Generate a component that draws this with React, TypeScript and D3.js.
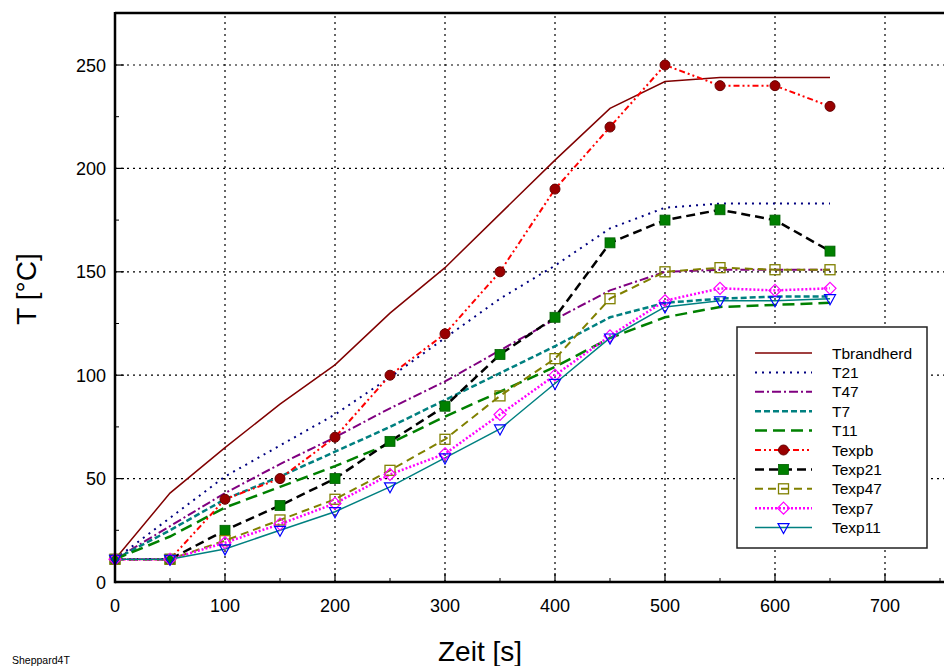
import React from "react";
import * as d3 from "d3";

const times = [0, 50, 100, 150, 200, 250, 300, 350, 400, 450, 500, 550, 600, 650];

const tBrandherd = [11, 43, 65, 86, 105, 130, 152, 178, 204, 229, 242, 244, 244, 244];
const t21 = [11, 31, 51, 66, 81, 99, 118, 137, 153, 171, 181, 183, 183, 183];
const t47 = [11, 27, 43, 57, 70, 84, 97, 112, 127, 141, 150, 151, 151, 151];
const t7 = [11, 25, 40, 51, 63, 75, 88, 101, 114, 128, 135, 137, 138, 138];
const t11 = [11, 22, 36, 46, 56, 67, 80, 92, 104, 118, 128, 133, 134, 135];

const texpb = [11, 11, 40, 50, 70, 100, 120, 150, 190, 220, 250, 240, 240, 230];
const texp21 = [11, 11, 25, 37, 50, 68, 85, 110, 128, 164, 175, 180, 175, 160];
const texp47 = [11, 11, 20, 30, 40, 54, 69, 90, 108, 137, 150, 152, 151, 151];
const texp7 = [11, 11, 19, 28, 38, 52, 62, 81, 100, 119, 136, 142, 141, 142];
const texp11 = [11, 11, 16, 25, 34, 46, 60, 74, 96, 118, 133, 136, 136, 137];

const xTicks = [0, 100, 200, 300, 400, 500, 600, 700];
const yTicks = [0, 50, 100, 150, 200, 250];

type Marker = "none" | "circle" | "squareFilled" | "square" | "diamond" | "triangleDown";

interface Series {
  name: string;
  values: number[];
  color: string;
  width: number;
  dash: string;
  marker: Marker;
}

const series: Series[] = [
  { name: "Tbrandherd", values: tBrandherd, color: "#800000", width: 1.5, dash: "", marker: "none" },
  { name: "T21", values: t21, color: "#000080", width: 2, dash: "2,5", marker: "none" },
  { name: "T47", values: t47, color: "#800080", width: 2, dash: "9,3,2,3", marker: "none" },
  { name: "T7", values: t7, color: "#008080", width: 2.5, dash: "6,3", marker: "none" },
  { name: "T11", values: t11, color: "#008000", width: 2.5, dash: "12,6", marker: "none" },
  { name: "Texpb", values: texpb, color: "#FF0000", width: 2, dash: "6,3,2,3,2,3", marker: "circle" },
  { name: "Texp21", values: texp21, color: "#000000", width: 2.5, dash: "9,5", marker: "squareFilled" },
  { name: "Texp47", values: texp47, color: "#808000", width: 2, dash: "8,5", marker: "square" },
  { name: "Texp7", values: texp7, color: "#FF00FF", width: 2.5, dash: "2,2", marker: "diamond" },
  { name: "Texp11", values: texp11, color: "#008080", width: 1.5, dash: "", marker: "triangleDown" },
];

const W = 944;
const H = 666;
const left = 115;
const xScale = d3.scaleLinear().domain([0, 750]).range([left, 940]);
const yScale = d3.scaleLinear().domain([0, 275]).range([582, 13.3]);

function MarkerShape({ m, x, y }: { m: Marker; x: number; y: number }) {
  switch (m) {
    case "circle":
      return <circle cx={x} cy={y} r={5} fill="#990000" stroke="#660000" strokeWidth={1} />;
    case "squareFilled":
      return <rect x={x - 5} y={y - 5} width={10} height={10} fill="#008000" stroke="#006000" strokeWidth={0.8} />;
    case "square":
      return <rect x={x - 5} y={y - 5} width={10} height={10} fill="none" stroke="#808000" strokeWidth={1.3} />;
    case "diamond":
      return (
        <path
          d={`M${x},${y - 6}L${x + 6},${y}L${x},${y + 6}L${x - 6},${y}Z`}
          fill="none"
          stroke="#FF00FF"
          strokeWidth={1.2}
        />
      );
    case "triangleDown":
      return (
        <path
          d={`M${x - 5.5},${y - 4}L${x + 5.5},${y - 4}L${x},${y + 6}Z`}
          fill="none"
          stroke="#0000FF"
          strokeWidth={1.2}
        />
      );
    default:
      return null;
  }
}

export default function App() {
  const line = d3
    .line<number>()
    .x((_, i) => xScale(times[i]))
    .y((v) => yScale(v));

  const minorX = d3.range(50, 751, 100);
  const minorY = d3.range(25, 276, 50);
  const font = "Arial, 'Liberation Sans', sans-serif";

  const legX = 737;
  const legY = 327;
  const legW = 190;
  const legH = 221;
  const rowY0 = 353;
  const rowStep = 19.4;

  return (
    <svg
      width={W}
      height={H}
      style={{ position: "fixed", left: 0, top: 0, background: "#fff", display: "block" }}
      fontFamily={font}
    >
      <rect x={0} y={0} width={W} height={H} fill="#fff" />
      {/* grid */}
      {xTicks.slice(1).map((t) => (
        <line
          key={"gx" + t}
          x1={xScale(t)}
          x2={xScale(t)}
          y1={yScale(0)}
          y2={yScale(275)}
          stroke="#000"
          strokeWidth={1.2}
          strokeDasharray="2,4"
        />
      ))}
      {yTicks.slice(1).map((t) => (
        <line
          key={"gy" + t}
          x1={left}
          x2={W}
          y1={yScale(t)}
          y2={yScale(t)}
          stroke="#000"
          strokeWidth={1.2}
          strokeDasharray="2,4"
        />
      ))}
      {/* minor & major ticks */}
      {minorX.map((t) => (
        <line key={"mx" + t} x1={xScale(t)} x2={xScale(t)} y1={yScale(0)} y2={yScale(0) - 4} stroke="#000" />
      ))}
      {xTicks.map((t) => (
        <line key={"Mx" + t} x1={xScale(t)} x2={xScale(t)} y1={yScale(0)} y2={yScale(0) - 9} stroke="#000" strokeWidth={1.2} />
      ))}
      {minorY.map((t) => (
        <line key={"my" + t} x1={left} x2={left + 4} y1={yScale(t)} y2={yScale(t)} stroke="#000" />
      ))}
      {yTicks.map((t) => (
        <line key={"My" + t} x1={left} x2={left + 9} y1={yScale(t)} y2={yScale(t)} stroke="#000" strokeWidth={1.2} />
      ))}
      {/* series lines */}
      {series.map((s) => (
        <path
          key={"l" + s.name}
          d={line(s.values) || ""}
          fill="none"
          stroke={s.color}
          strokeWidth={s.width}
          strokeDasharray={s.dash || undefined}
        />
      ))}
      {series.map((s) =>
        s.marker === "none"
          ? null
          : s.values.map((v, i) => (
              <MarkerShape key={s.name + "m" + i} m={s.marker} x={xScale(times[i])} y={yScale(v)} />
            ))
      )}
      {/* axes frame */}
      <line x1={left} x2={W} y1={yScale(0)} y2={yScale(0)} stroke="#000" strokeWidth={2.5} />
      <line x1={left} x2={left} y1={yScale(0) + 1.2} y2={12} stroke="#000" strokeWidth={2.5} />
      <line x1={left} x2={W} y1={13} y2={13} stroke="#000" strokeWidth={2.5} />
      {/* tick labels */}
      {xTicks.map((t) => (
        <text key={"tx" + t} x={xScale(t)} y={612} fontSize={18} textAnchor="middle" fill="#000">
          {t}
        </text>
      ))}
      {yTicks.map((t) => (
        <text key={"ty" + t} x={106} y={yScale(t) + 6.5} fontSize={18} textAnchor="end" fill="#000">
          {t}
        </text>
      ))}
      {/* axis titles */}
      <text x={480} y={661} fontSize={28} textAnchor="middle" fill="#000">
        Zeit [s]
      </text>
      <text
        transform={`translate(36,289) rotate(-90)`}
        fontSize={28}
        textAnchor="middle"
        fill="#000"
      >
        T [°C]
      </text>
      <text x={12} y={664} fontSize={10.5} fill="#000">
        Sheppard4T
      </text>
      {/* legend */}
      <rect x={legX} y={legY} width={legW} height={legH} fill="#fff" stroke="#222" strokeWidth={1.5} />
      {series.map((s, i) => {
        const y = rowY0 + i * rowStep;
        return (
          <g key={"lg" + s.name}>
            <line
              x1={755}
              x2={812}
              y1={y}
              y2={y}
              stroke={s.color}
              strokeWidth={s.width}
              strokeDasharray={s.dash || undefined}
            />
            <MarkerShape m={s.marker} x={783.5} y={y} />
            <text x={832} y={y + 5.5} fontSize={15.5} fill="#000">
              {s.name}
            </text>
          </g>
        );
      })}
    </svg>
  );
}
